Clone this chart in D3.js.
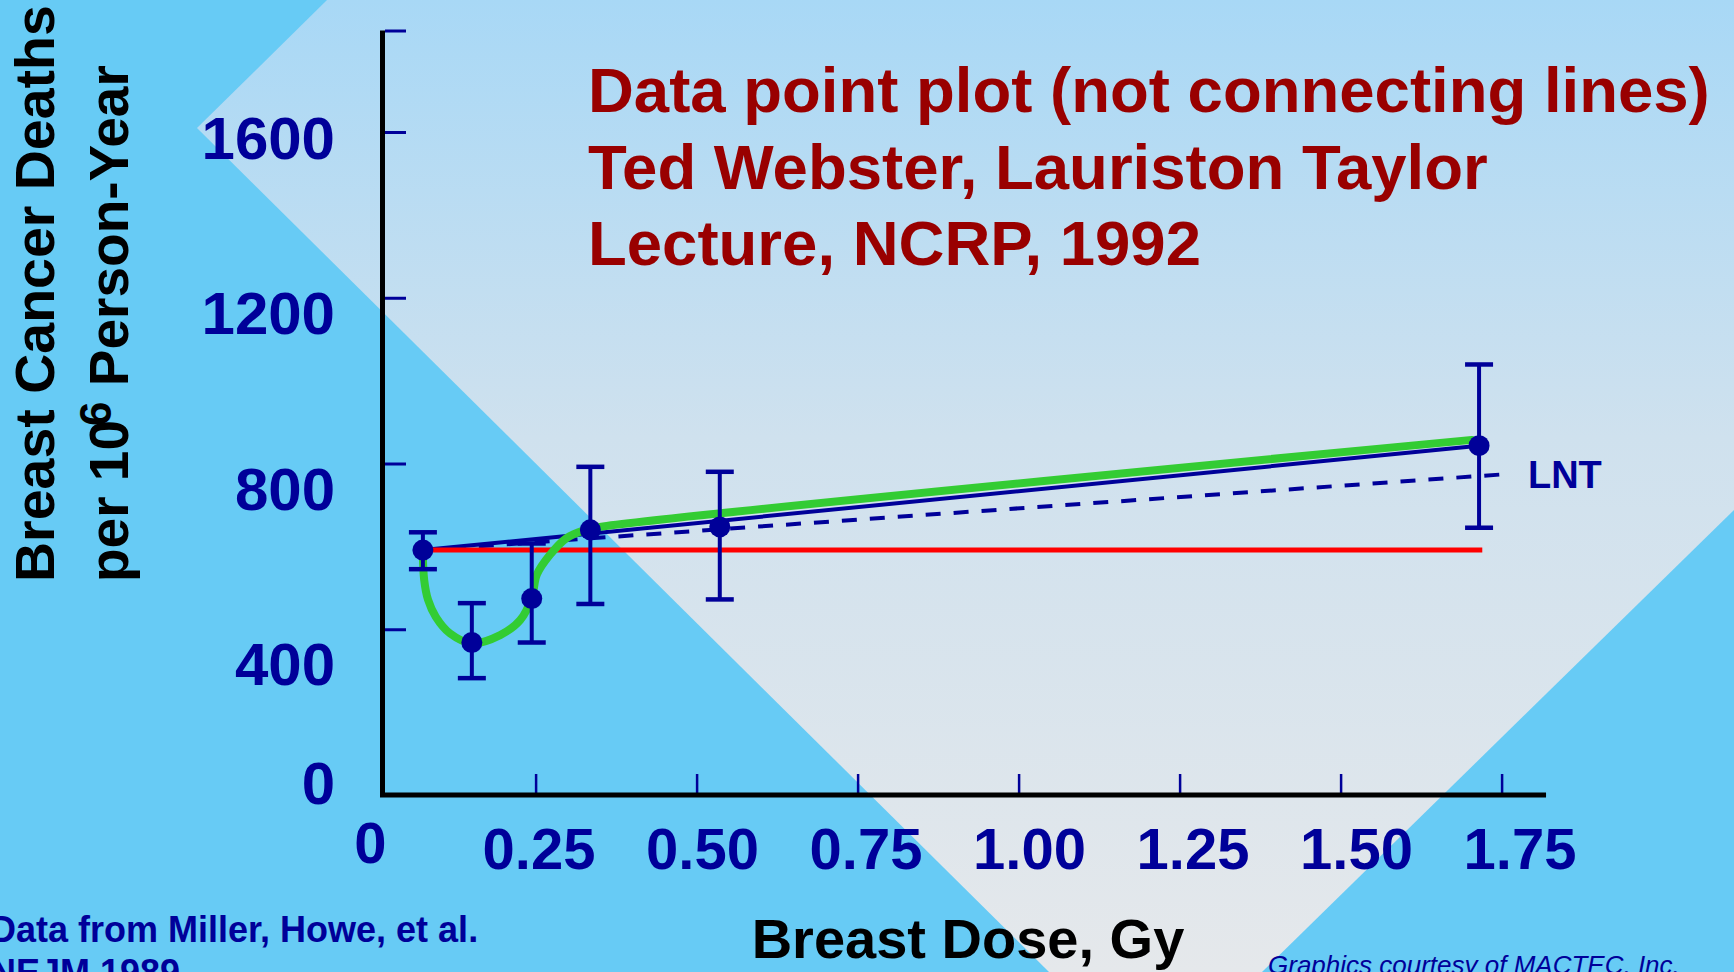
<!DOCTYPE html>
<html>
<head>
<meta charset="utf-8">
<script src="https://cdn.jsdelivr.net/npm/d3@7"></script>
<style>
  html, body { margin: 0; padding: 0; background: #67CBF5; overflow: hidden; }
  svg { display: block; font-family: "Liberation Sans", Arial, sans-serif; }
</style>
</head>
<body>
<svg id="chart" width="1734" height="972"></svg>
<script>
// ---------------- data ----------------
const doseX    = [0.075, 0.151, 0.244, 0.335, 0.536, 1.715];
const deaths   = [591, 368, 474, 640, 647, 843];
const errLow   = [545, 282, 368, 461, 472, 645];
const errHigh  = [634, 463, 607, 792, 780, 1039];

const fitX  = [0.075, 1.715];   // solid navy line
const fitY  = [591, 843];
const lntX  = [0.075, 1.763];   // dashed LNT line
const lntY  = [591, 775];
const flatX = [0.075, 1.72];    // red threshold line
const flatY = [591, 591];

const greenX = [0.075, 0.077, 0.083, 0.095, 0.117, 0.151, 0.195, 0.226, 0.244, 0.252, 0.272, 0.298, 0.324, 0.350, 1.704];
const greenY = [575, 519, 471, 430, 390, 366, 386, 422, 476, 532, 579, 620, 638, 647, 857];

const yTickValues = [0, 400, 800, 1200, 1600];
const yTickLabels = ["0", "400", "800", "1200", "1600"];
const xTickValues = [0, 0.25, 0.50, 0.75, 1.00, 1.25, 1.50, 1.75];
const xTickLabels = ["0", "0.25", "0.50", "0.75", "1.00", "1.25", "1.50", "1.75"];

const titleLines = ["Data point plot (not connecting lines)", "Ted Webster, Lauriston Taylor", "Lecture, NCRP, 1992"];
const yTitle1 = "Breast Cancer Deaths";
const xTitle = "Breast Dose, Gy";
const sourceLines = ["Data from Miller, Howe, et al.", "NEJM 1989"];
const credit = "Graphics courtesy of MACTEC, Inc.";

// ---------------- styles ----------------
const NAVY = "#000099", DARKRED = "#990000", GREEN = "#33CC33", RED = "#FF0000";

const svg = d3.select("#chart");
const W = 1734, H = 972;

// ---------------- background ----------------
const defs = svg.append("defs");
const grad = defs.append("linearGradient").attr("id", "lightGrad")
  .attr("x1", 0).attr("y1", 0).attr("x2", 0).attr("y2", 1);
grad.append("stop").attr("offset", "0%").attr("stop-color", "#A8D8F6");
grad.append("stop").attr("offset", "45%").attr("stop-color", "#CFE1EE");
grad.append("stop").attr("offset", "100%").attr("stop-color", "#E5E8EB");

svg.append("rect").attr("width", W).attr("height", H).attr("fill", "#67CBF5");
svg.append("polygon")
  .attr("points", [[327,0],[1734,0],[1734,510],[1262,972],[1049,972],[197,128]].map(p => p.join(",")).join(" "))
  .attr("fill", "url(#lightGrad)");

// ---------------- scales ----------------
const x = d3.scaleLinear().domain([0, 1.75]).range([374.6, 1501.6]);
const y = d3.scaleLinear().domain([0, 1845]).range([795, 30.5]);
const yLabelPos = d3.scaleLinear().domain([0, 400, 1600]).range([782, 663.5, 137]);
const xLabelPos = d3.scaleLinear().domain([0, 0.25, 1.75]).range([370.5, 539, 1520]);

// ---------------- axes ----------------
const yAxisG = svg.append("g").attr("transform", "translate(385,0)")
  .call(d3.axisRight(y).tickValues(yTickValues.slice(1).concat([y.domain()[1]])).tickSize(21).tickFormat(""));
yAxisG.select(".domain").remove();
yAxisG.selectAll(".tick line").attr("stroke", NAVY).attr("stroke-width", 3);

const xAxisG = svg.append("g").attr("transform", "translate(0,793)")
  .call(d3.axisTop(x).tickValues(xTickValues.slice(1)).tickSize(19).tickFormat(""));
xAxisG.select(".domain").remove();
xAxisG.selectAll(".tick line").attr("stroke", NAVY).attr("stroke-width", 2.5);

svg.append("line").attr("x1", 382.5).attr("x2", 382.5).attr("y1", y.range()[1]).attr("y2", 797.5)
  .attr("stroke", "#000").attr("stroke-width", 5);
svg.append("line").attr("x1", 385).attr("x2", x(1.819)).attr("y1", 795).attr("y2", 795)
  .attr("stroke", "#000").attr("stroke-width", 5);

svg.append("g").selectAll("text").data(yTickValues).join("text")
  .attr("x", 335).attr("y", d => yLabelPos(d)).attr("dy", "0.36em")
  .attr("text-anchor", "end").attr("fill", NAVY)
  .attr("font-size", 60).attr("font-weight", "bold")
  .text((d, i) => yTickLabels[i]);

svg.append("g").selectAll("text").data(xTickValues).join("text")
  .attr("x", d => xLabelPos(d)).attr("y", (d, i) => i === 0 ? 863 : 869)
  .attr("text-anchor", "middle").attr("fill", NAVY)
  .attr("font-size", 58).attr("font-weight", "bold")
  .text((d, i) => xTickLabels[i]);

// ---------------- lines ----------------
const line = d3.line().x(d => x(d[0])).y(d => y(d[1]));

svg.append("path").datum(fitX.map((v, i) => [v, fitY[i]]))
  .attr("d", line).attr("fill", "none").attr("stroke", NAVY).attr("stroke-width", 4);

svg.append("path").datum(lntX.map((v, i) => [v, lntY[i]]))
  .attr("d", line).attr("fill", "none").attr("stroke", NAVY).attr("stroke-width", 4)
  .attr("stroke-dasharray", "15,13");

svg.append("path").datum(flatX.map((v, i) => [v, flatY[i]]))
  .attr("d", line).attr("fill", "none").attr("stroke", RED).attr("stroke-width", 5);

svg.append("path").datum(greenX.map((v, i) => [v, greenY[i]]))
  .attr("d", line.curve(d3.curveCatmullRom.alpha(0.5))).attr("fill", "none")
  .attr("stroke", GREEN).attr("stroke-width", 8).attr("stroke-linecap", "round");

svg.append("text")
  .attr("x", x(lntX[1]) + 18).attr("y", y(lntY[1]) + 14)
  .attr("fill", NAVY).attr("font-size", 38).attr("font-weight", "bold")
  .text("LNT");

// ---------------- error bars & points ----------------
const pts = doseX.map((v, i) => ({ x: v, y: deaths[i], lo: errLow[i], hi: errHigh[i] }));
const eb = svg.append("g").attr("stroke", NAVY);
eb.selectAll("line.v").data(pts).join("line").attr("class", "v")
  .attr("x1", d => x(d.x)).attr("x2", d => x(d.x))
  .attr("y1", d => y(d.lo)).attr("y2", d => y(d.hi)).attr("stroke-width", 4);
eb.selectAll("line.t").data(pts).join("line").attr("class", "t")
  .attr("x1", d => x(d.x) - 14).attr("x2", d => x(d.x) + 14)
  .attr("y1", d => y(d.hi)).attr("y2", d => y(d.hi)).attr("stroke-width", 4.5);
eb.selectAll("line.b").data(pts).join("line").attr("class", "b")
  .attr("x1", d => x(d.x) - 14).attr("x2", d => x(d.x) + 14)
  .attr("y1", d => y(d.lo)).attr("y2", d => y(d.lo)).attr("stroke-width", 4.5);

svg.append("g").selectAll("circle").data(pts).join("circle")
  .attr("cx", d => x(d.x)).attr("cy", d => y(d.y)).attr("r", 10.5).attr("fill", NAVY);

// ---------------- titles ----------------
svg.append("g").selectAll("text").data(titleLines).join("text")
  .attr("x", 588).attr("y", (d, i) => 112 + i * 76.6)
  .attr("fill", DARKRED).attr("font-size", 63.5).attr("font-weight", "bold")
  .text(d => d);

const yt = svg.append("g").attr("font-size", 55.5).attr("font-weight", "bold").attr("fill", "#000");
yt.append("text").attr("transform", "translate(54,582) rotate(-90)").text(yTitle1);
const yt2 = yt.append("text").attr("transform", "translate(128,582) rotate(-90)").attr("font-size", 55);
yt2.append("tspan").text("per 10");
yt2.append("tspan").attr("font-size", 44).attr("dx", -6).attr("dy", -17).text("6");
yt2.append("tspan").attr("dy", 17).text(" Person-Year");

svg.append("text").attr("x", 968).attr("y", 958).attr("text-anchor", "middle")
  .attr("fill", "#000").attr("font-size", 56).attr("font-weight", "bold").text(xTitle);

svg.append("g").selectAll("text").data(sourceLines).join("text")
  .attr("x", -10).attr("y", (d, i) => 941.5 + i * 43)
  .attr("fill", NAVY).attr("font-size", 36).attr("font-weight", "bold")
  .text(d => d);

svg.append("text").attr("x", 1268).attr("y", 974)
  .attr("fill", NAVY).attr("font-size", 26).attr("font-style", "italic").text(credit);
</script>
</body>
</html>
